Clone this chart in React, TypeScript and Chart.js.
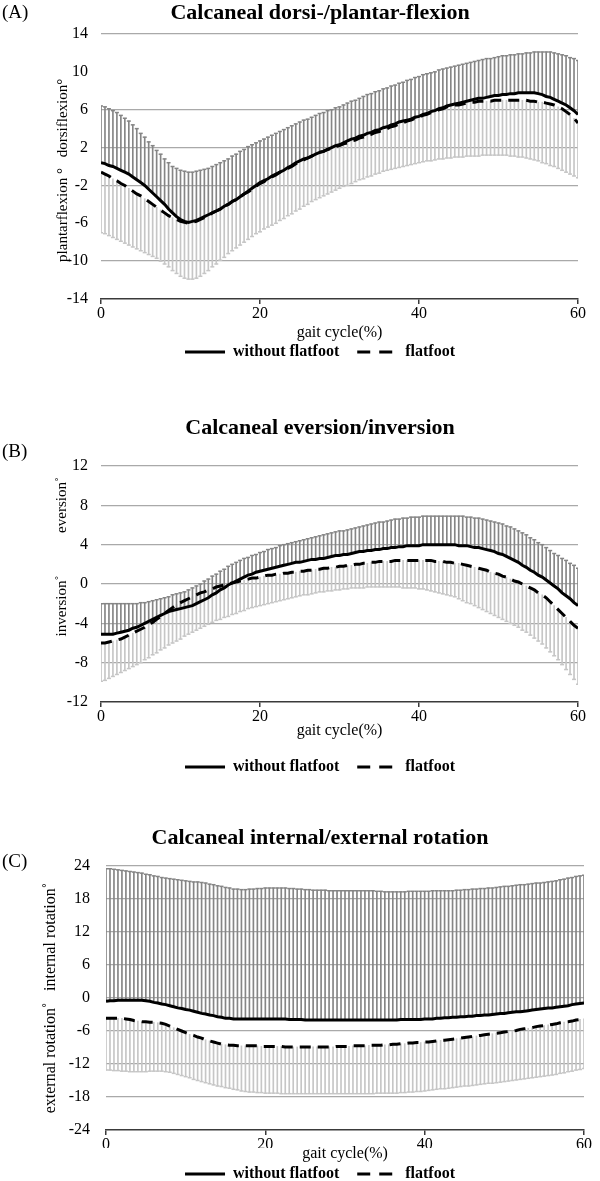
import React, { useEffect, useRef } from 'react';
import { Chart, registerables } from 'chart.js';

Chart.register(...registerables);

const FONT = '"Liberation Serif", "Times New Roman", serif';
Chart.defaults.font.family = FONT;
Chart.defaults.color = '#000';

// gait cycle (%) sample positions
const GAIT = [0,0.5,1,1.5,2,2.5,3,3.5,4,4.5,5,5.5,6,6.5,7,7.5,8,8.5,9,9.5,10,10.5,11,11.5,12,12.5,13,13.5,14,14.5,15,15.5,16,16.5,17,17.5,18,18.5,19,19.5,20,20.5,21,21.5,22,22.5,23,23.5,24,24.5,25,25.5,26,26.5,27,27.5,28,28.5,29,29.5,30,30.5,31,31.5,32,32.5,33,33.5,34,34.5,35,35.5,36,36.5,37,37.5,38,38.5,39,39.5,40,40.5,41,41.5,42,42.5,43,43.5,44,44.5,45,45.5,46,46.5,47,47.5,48,48.5,49,49.5,50,50.5,51,51.5,52,52.5,53,53.5,54,54.5,55,55.5,56,56.5,57,57.5,58,58.5,59,59.5,60];

// (A) dorsi-/plantar-flexion
const A_WITHOUT = [0.4,0.3,0.1,0.0,-0.2,-0.4,-0.6,-0.8,-1.1,-1.4,-1.7,-2.0,-2.4,-2.8,-3.2,-3.6,-4.0,-4.5,-4.9,-5.3,
-5.6,-5.8,-5.9,-5.8,-5.7,-5.5,-5.3,-5.1,-4.9,-4.7,-4.5,-4.2,-4.0,-3.7,-3.5,-3.2,-2.9,-2.6,-2.3,-2.0,
-1.7,-1.5,-1.3,-1.0,-0.8,-0.6,-0.4,-0.1,0.1,0.4,0.6,0.8,0.9,1.1,1.3,1.5,1.6,1.8,2.0,2.2,
2.3,2.5,2.7,2.9,3.0,3.2,3.3,3.5,3.6,3.8,3.9,4.1,4.2,4.4,4.5,4.7,4.8,4.9,5.0,5.2,
5.3,5.5,5.6,5.8,5.9,6.1,6.2,6.4,6.5,6.6,6.7,6.8,6.9,7.0,7.1,7.2,7.2,7.3,7.4,7.5,
7.5,7.6,7.6,7.7,7.7,7.8,7.8,7.8,7.8,7.8,7.7,7.6,7.4,7.3,7.1,6.9,6.7,6.5,6.2,5.9,
5.5];
const A_FLAT = [-0.6,-0.8,-1.0,-1.3,-1.5,-1.8,-2.0,-2.3,-2.6,-2.9,-3.1,-3.4,-3.7,-4.0,-4.3,-4.6,-4.9,-5.2,-5.4,-5.6,
-5.8,-5.9,-6.0,-5.9,-5.8,-5.6,-5.4,-5.2,-4.9,-4.7,-4.5,-4.2,-4.0,-3.7,-3.5,-3.2,-2.9,-2.7,-2.4,-2.1,
-1.8,-1.6,-1.3,-1.1,-0.9,-0.6,-0.4,-0.2,0.0,0.3,0.5,0.7,0.9,1.1,1.3,1.5,1.6,1.8,1.9,2.1,
2.2,2.4,2.5,2.7,2.8,3.0,3.1,3.3,3.4,3.6,3.7,3.9,4.0,4.2,4.3,4.5,4.6,4.8,4.9,5.1,
5.2,5.4,5.5,5.7,5.8,6.0,6.1,6.3,6.4,6.5,6.5,6.6,6.7,6.8,6.8,6.9,6.9,6.9,6.9,7.0,
7.0,7.0,7.0,7.0,7.0,7.0,7.0,7.0,6.9,6.9,6.8,6.8,6.7,6.6,6.5,6.3,6.1,5.8,5.5,5.1,
4.6];
const A_UPPER = [6.4,6.3,6.1,5.9,5.7,5.4,5.1,4.8,4.4,4.0,3.5,3.1,2.6,2.2,1.7,1.3,0.8,0.4,0.0,-0.2,
-0.4,-0.5,-0.6,-0.6,-0.5,-0.4,-0.3,-0.2,0.0,0.2,0.4,0.6,0.8,1.1,1.3,1.6,1.8,2.1,2.3,2.5,
2.7,2.9,3.1,3.3,3.5,3.7,3.9,4.1,4.3,4.5,4.7,4.9,5.0,5.2,5.4,5.6,5.7,5.9,6.0,6.2,
6.3,6.5,6.7,6.9,7.0,7.2,7.4,7.6,7.7,7.9,8.0,8.2,8.3,8.5,8.6,8.8,8.9,9.1,9.2,9.4,
9.5,9.7,9.8,9.9,10.0,10.2,10.3,10.4,10.5,10.6,10.7,10.8,10.9,11.0,11.1,11.2,11.3,11.4,11.4,11.5,
11.6,11.7,11.7,11.8,11.8,11.9,11.9,12.0,12.0,12.1,12.1,12.1,12.1,12.1,12.0,11.9,11.8,11.7,11.5,11.4,
11.2];
const A_LOWER = [-7.0,-7.1,-7.3,-7.5,-7.7,-7.9,-8.1,-8.3,-8.5,-8.7,-8.9,-9.1,-9.3,-9.5,-9.7,-10.0,-10.3,-10.6,-11.0,-11.3,
-11.6,-11.8,-11.9,-11.9,-11.8,-11.6,-11.3,-11.0,-10.6,-10.3,-9.9,-9.6,-9.2,-8.9,-8.6,-8.3,-8.0,-7.7,-7.4,-7.1,
-6.9,-6.6,-6.4,-6.2,-6.0,-5.7,-5.5,-5.2,-5.0,-4.7,-4.5,-4.2,-4.0,-3.7,-3.5,-3.3,-3.1,-2.9,-2.7,-2.5,
-2.3,-2.1,-2.0,-1.8,-1.6,-1.4,-1.3,-1.1,-1.0,-0.8,-0.7,-0.5,-0.4,-0.3,-0.2,-0.1,0.0,0.1,0.2,0.3,
0.4,0.5,0.6,0.6,0.7,0.8,0.8,0.9,0.9,1.0,1.0,1.0,1.1,1.1,1.1,1.1,1.2,1.2,1.2,1.2,
1.2,1.2,1.2,1.1,1.1,1.0,1.0,0.9,0.8,0.7,0.6,0.4,0.3,0.1,0.0,-0.2,-0.4,-0.6,-0.8,-1.0,
-1.2];

// (B) eversion/inversion
const B_WITHOUT = [-5.1,-5.1,-5.1,-5.1,-5.0,-4.9,-4.8,-4.7,-4.5,-4.4,-4.2,-4.0,-3.8,-3.6,-3.4,-3.2,-3.0,-2.8,-2.7,-2.6,
-2.5,-2.4,-2.3,-2.2,-2.0,-1.8,-1.6,-1.4,-1.1,-0.9,-0.6,-0.4,-0.1,0.1,0.3,0.5,0.7,0.9,1.0,1.2,
1.3,1.4,1.5,1.6,1.7,1.8,1.9,2.0,2.1,2.2,2.2,2.3,2.4,2.5,2.5,2.6,2.6,2.7,2.8,2.9,
2.9,3.0,3.0,3.1,3.2,3.3,3.3,3.4,3.4,3.5,3.5,3.6,3.6,3.7,3.7,3.8,3.8,3.9,3.9,3.9,
3.9,4.0,4.0,4.0,4.0,4.0,4.0,4.0,4.0,4.0,3.9,3.9,3.9,3.8,3.7,3.7,3.6,3.5,3.4,3.3,
3.1,3.0,2.8,2.6,2.4,2.2,1.9,1.7,1.4,1.2,0.9,0.7,0.4,0.1,-0.2,-0.5,-0.9,-1.2,-1.5,-1.9,
-2.2];
const B_FLAT = [-6.0,-6.0,-5.9,-5.8,-5.7,-5.6,-5.4,-5.2,-5.0,-4.8,-4.6,-4.4,-4.1,-3.9,-3.6,-3.3,-3.0,-2.7,-2.4,-2.1,
-1.9,-1.7,-1.5,-1.3,-1.1,-0.9,-0.8,-0.6,-0.5,-0.3,-0.2,-0.1,0.0,0.1,0.2,0.3,0.4,0.5,0.6,0.6,
0.7,0.8,0.9,0.9,1.0,1.0,1.1,1.1,1.2,1.2,1.3,1.3,1.4,1.4,1.5,1.5,1.6,1.6,1.7,1.7,
1.8,1.8,1.9,1.9,2.0,2.0,2.1,2.1,2.2,2.2,2.3,2.3,2.3,2.3,2.4,2.4,2.4,2.4,2.4,2.4,
2.4,2.4,2.4,2.4,2.3,2.3,2.3,2.2,2.2,2.1,2.1,2.0,1.9,1.8,1.7,1.6,1.5,1.4,1.2,1.1,
1.0,0.8,0.7,0.5,0.3,0.2,0.0,-0.2,-0.4,-0.6,-0.9,-1.1,-1.4,-1.8,-2.2,-2.6,-3.0,-3.4,-3.8,-4.2,
-4.5];
const B_UPPER = [-2.0,-2.0,-2.0,-2.0,-2.0,-2.0,-2.0,-2.0,-2.0,-2.0,-1.9,-1.9,-1.8,-1.7,-1.6,-1.5,-1.4,-1.3,-1.1,-1.0,
-0.9,-0.8,-0.6,-0.4,-0.2,0.0,0.3,0.5,0.8,1.0,1.3,1.5,1.8,2.0,2.2,2.4,2.6,2.7,2.9,3.0,
3.2,3.3,3.5,3.6,3.7,3.9,4.0,4.1,4.2,4.3,4.4,4.5,4.6,4.7,4.8,4.9,5.0,5.1,5.2,5.3,
5.4,5.4,5.5,5.6,5.7,5.8,5.9,6.0,6.1,6.2,6.3,6.3,6.4,6.5,6.6,6.6,6.7,6.7,6.8,6.8,
6.8,6.9,6.9,6.9,6.9,6.9,6.9,6.9,6.9,6.9,6.9,6.9,6.8,6.8,6.7,6.7,6.6,6.5,6.4,6.3,
6.2,6.1,5.9,5.8,5.6,5.4,5.2,5.0,4.7,4.5,4.2,4.0,3.7,3.4,3.1,2.9,2.6,2.4,2.1,1.9,
1.6];
const B_LOWER = [-9.9,-9.8,-9.6,-9.4,-9.2,-9.0,-8.8,-8.6,-8.4,-8.2,-8.0,-7.7,-7.5,-7.2,-7.0,-6.7,-6.5,-6.2,-6.0,-5.8,
-5.6,-5.3,-5.1,-4.9,-4.7,-4.5,-4.3,-4.1,-3.9,-3.7,-3.6,-3.4,-3.3,-3.1,-3.0,-2.8,-2.7,-2.5,-2.4,-2.3,
-2.2,-2.1,-2.0,-1.9,-1.8,-1.7,-1.6,-1.5,-1.4,-1.3,-1.2,-1.1,-1.1,-1.0,-0.9,-0.8,-0.8,-0.7,-0.7,-0.6,
-0.6,-0.5,-0.5,-0.4,-0.4,-0.4,-0.4,-0.3,-0.3,-0.3,-0.3,-0.3,-0.3,-0.3,-0.3,-0.3,-0.4,-0.4,-0.4,-0.4,
-0.5,-0.5,-0.6,-0.7,-0.8,-0.9,-1.0,-1.1,-1.2,-1.3,-1.5,-1.7,-1.9,-2.0,-2.2,-2.4,-2.6,-2.8,-3.0,-3.2,
-3.4,-3.6,-3.8,-4.0,-4.2,-4.4,-4.7,-4.9,-5.2,-5.5,-5.8,-6.1,-6.5,-6.9,-7.3,-7.7,-8.2,-8.7,-9.2,-9.7,
-10.2];

// (C) internal/external rotation
const C_WITHOUT = [-0.6,-0.5,-0.5,-0.4,-0.4,-0.4,-0.4,-0.4,-0.4,-0.4,-0.5,-0.6,-0.8,-0.9,-1.1,-1.2,-1.4,-1.6,-1.8,-1.9,
-2.1,-2.2,-2.4,-2.6,-2.8,-2.9,-3.1,-3.2,-3.4,-3.5,-3.7,-3.7,-3.8,-3.8,-3.8,-3.8,-3.8,-3.8,-3.8,-3.8,
-3.8,-3.8,-3.8,-3.8,-3.8,-3.8,-3.9,-3.9,-3.9,-3.9,-4.0,-4.0,-4.0,-4.0,-4.0,-4.0,-4.0,-4.0,-4.0,-4.0,
-4.0,-4.0,-4.0,-4.0,-4.0,-4.0,-4.0,-4.0,-4.0,-4.0,-4.0,-4.0,-4.0,-4.0,-3.9,-3.9,-3.9,-3.9,-3.9,-3.9,
-3.8,-3.8,-3.8,-3.7,-3.7,-3.6,-3.6,-3.5,-3.5,-3.4,-3.4,-3.3,-3.3,-3.2,-3.2,-3.1,-3.1,-3.0,-2.9,-2.8,
-2.8,-2.7,-2.6,-2.5,-2.5,-2.4,-2.3,-2.2,-2.1,-2.0,-1.9,-1.8,-1.8,-1.7,-1.6,-1.5,-1.4,-1.2,-1.1,-1.0,
-0.9];
const C_FLAT = [-3.7,-3.7,-3.7,-3.7,-3.7,-3.8,-3.9,-4.1,-4.2,-4.3,-4.3,-4.4,-4.4,-4.5,-4.6,-4.8,-5.1,-5.4,-5.7,-6.0,
-6.3,-6.6,-6.8,-7.1,-7.3,-7.6,-7.8,-8.0,-8.2,-8.4,-8.5,-8.6,-8.6,-8.7,-8.7,-8.7,-8.7,-8.7,-8.7,-8.8,
-8.8,-8.8,-8.8,-8.8,-8.8,-8.9,-8.9,-8.9,-8.9,-8.9,-8.9,-8.9,-8.9,-8.9,-8.9,-8.9,-8.9,-8.9,-8.8,-8.8,
-8.8,-8.8,-8.7,-8.7,-8.7,-8.7,-8.6,-8.6,-8.6,-8.6,-8.5,-8.5,-8.4,-8.4,-8.3,-8.3,-8.2,-8.2,-8.1,-8.1,
-8.0,-8.0,-7.9,-7.8,-7.7,-7.7,-7.6,-7.5,-7.4,-7.3,-7.2,-7.1,-7.0,-6.9,-6.8,-6.7,-6.6,-6.5,-6.4,-6.3,
-6.2,-6.1,-6.0,-5.9,-5.7,-5.6,-5.5,-5.4,-5.2,-5.1,-5.0,-4.9,-4.8,-4.7,-4.5,-4.4,-4.3,-4.2,-4.0,-3.9,
-3.8];
const C_UPPER = [23.5,23.5,23.4,23.3,23.2,23.1,23.0,22.9,22.8,22.7,22.5,22.4,22.2,22.1,21.9,21.8,21.7,21.6,21.5,21.4,
21.3,21.2,21.1,21.1,21.0,20.9,20.7,20.6,20.4,20.3,20.1,20.0,19.8,19.8,19.7,19.7,19.8,19.8,19.9,19.9,
20.0,20.0,20.0,20.0,20.0,20.0,19.9,19.9,19.8,19.8,19.7,19.7,19.6,19.6,19.6,19.6,19.5,19.5,19.5,19.5,
19.5,19.5,19.5,19.5,19.5,19.5,19.5,19.5,19.4,19.4,19.3,19.3,19.3,19.3,19.3,19.3,19.4,19.4,19.4,19.4,
19.4,19.4,19.5,19.5,19.5,19.5,19.5,19.5,19.6,19.6,19.7,19.7,19.8,19.8,19.9,19.9,20.0,20.0,20.1,20.2,
20.3,20.3,20.4,20.5,20.6,20.6,20.7,20.8,20.9,20.9,21.0,21.1,21.2,21.3,21.5,21.6,21.8,21.9,22.1,22.2,
22.3];
const C_LOWER = [-13.1,-13.1,-13.2,-13.2,-13.3,-13.3,-13.4,-13.4,-13.4,-13.4,-13.4,-13.3,-13.3,-13.3,-13.3,-13.4,-13.5,-13.7,-13.9,-14.1,
-14.3,-14.5,-14.8,-15.0,-15.2,-15.4,-15.6,-15.8,-16.0,-16.1,-16.3,-16.4,-16.6,-16.7,-16.9,-17.0,-17.1,-17.1,-17.2,-17.2,
-17.3,-17.3,-17.3,-17.3,-17.4,-17.4,-17.4,-17.4,-17.4,-17.4,-17.4,-17.4,-17.4,-17.4,-17.4,-17.4,-17.4,-17.4,-17.4,-17.4,
-17.4,-17.4,-17.4,-17.4,-17.4,-17.4,-17.4,-17.4,-17.3,-17.3,-17.3,-17.3,-17.3,-17.3,-17.2,-17.2,-17.1,-17.1,-17.0,-17.0,
-16.9,-16.8,-16.7,-16.6,-16.5,-16.5,-16.4,-16.3,-16.2,-16.1,-16.0,-16.0,-15.9,-15.8,-15.7,-15.6,-15.5,-15.5,-15.4,-15.3,
-15.2,-15.1,-15.0,-14.9,-14.8,-14.7,-14.6,-14.5,-14.4,-14.3,-14.2,-14.1,-14.0,-13.9,-13.7,-13.6,-13.4,-13.3,-13.1,-13.0,
-12.8];

const X_TICKS_STEP = 20;
const SERIES_LABELS = ['without flatfoot', 'flatfoot'];

const DARK = '#858585';
const LIGHT = '#c6c6c6';
const GRID = '#a9a9a9';
const AXIS = '#3a3a3a';

type YTitle = { text: string; x: number; y: number; size: number };
type Panel = {
  key: string;
  top: number;
  height: number;
  title: string;
  letter: string;
  letterY: number;
  yTitles: YTitle[];
  without: number[];
  flat: number[];
  upper: number[];
  lower: number[];
  yMin: number;
  yMax: number;
  yStep: number;
  hiddenGrid: number[];
  padL: number;
  padR: number;
  yAxisW: number;
  yTickPad: number;
  titlePadTop: number;
  titlePadBottom: number;
  xAxisH: number;
  xTitlePadBottom: number;
};

const PANELS: Panel[] = [
  {
    key: 'A', top: 0, height: 370,
    title: 'Calcaneal dorsi-/plantar-flexion', letter: '(A)', letterY: 13,
    yTitles: [
      { text: 'plantarflexion °', x: 63, y: 215, size: 15 },
      { text: 'dorsiflexion°', x: 63, y: 118, size: 15 },
    ],
    without: A_WITHOUT, flat: A_FLAT, upper: A_UPPER, lower: A_LOWER,
    yMin: -14, yMax: 14, yStep: 4, hiddenGrid: [10, -6, -14],
    padL: 62, padR: 22, yAxisW: 39, yTickPad: 13,
    titlePadTop: 0, titlePadBottom: 7.6, xAxisH: 27, xTitlePadBottom: -16.6,
  },
  {
    key: 'B', top: 380, height: 405,
    title: 'Calcaneal eversion/inversion', letter: '(B)', letterY: 72,
    yTitles: [
      { text: 'eversion˚', x: 62, y: 125, size: 15 },
      { text: 'inversion˚', x: 62, y: 226, size: 15 },
    ],
    without: B_WITHOUT, flat: B_FLAT, upper: B_UPPER, lower: B_LOWER,
    yMin: -12, yMax: 12, yStep: 4, hiddenGrid: [-12],
    padL: 62, padR: 22, yAxisW: 39, yTickPad: 13,
    titlePadTop: 34.8, titlePadBottom: 24.8, xAxisH: 39, xTitlePadBottom: 0.4,
  },
  {
    key: 'C', top: 790, height: 402,
    title: 'Calcaneal internal/external rotation', letter: '(C)', letterY: 72,
    yTitles: [
      { text: 'internal rotation˚', x: 51, y: 147, size: 16 },
      { text: 'external rotation˚', x: 51, y: 268, size: 16 },
    ],
    without: C_WITHOUT, flat: C_FLAT, upper: C_UPPER, lower: C_LOWER,
    yMin: -24, yMax: 24, yStep: 6, hiddenGrid: [-24],
    padL: 56, padR: 16, yAxisW: 50, yTickPad: 16,
    titlePadTop: 34.8, titlePadBottom: 14.8, xAxisH: 18, xTitlePadBottom: -15.6,
  },
];

const decorPlugin = {
  id: 'decor',
  afterDraw(chart: any, _args: any, opts: any) {
    const ctx = chart.ctx as CanvasRenderingContext2D;
    ctx.save();
    ctx.fillStyle = '#000';
    ctx.font = `19px ${FONT}`;
    ctx.textAlign = 'left';
    ctx.textBaseline = 'middle';
    ctx.fillText(opts.letter, 2, opts.letterY);
    for (const t of opts.yTitles as YTitle[]) {
      ctx.save();
      ctx.translate(t.x, t.y);
      ctx.rotate(-Math.PI / 2);
      ctx.font = `${t.size}px ${FONT}`;
      ctx.textAlign = 'center';
      ctx.textBaseline = 'middle';
      ctx.fillText(t.text, 0, 0);
      ctx.restore();
    }
    ctx.restore();
  },
};

function PanelChart({ p }: { p: Panel }) {
  const ref = useRef<HTMLCanvasElement | null>(null);
  useEffect(() => {
    const canvas = ref.current;
    if (!canvas) return;
    const pts = (ys: number[]) => GAIT.map((x, i) => ({ x, y: ys[i] }));
    const ranges = (a: number[], b: number[]) => GAIT.map((x, i) => ({ x, y: [a[i], b[i]] }));
    const chart = new Chart(canvas, {
      type: 'line',
      data: {
        datasets: [
          {
            type: 'line', label: SERIES_LABELS[0], data: pts(p.without),
            borderColor: '#000', backgroundColor: '#000', borderWidth: 3,
            pointRadius: 0, tension: 0, fill: false, order: 0,
          },
          {
            type: 'line', label: SERIES_LABELS[1], data: pts(p.flat),
            borderColor: '#000', backgroundColor: '#000', borderWidth: 3, borderDash: [11, 7],
            pointRadius: 0, tension: 0, fill: false, order: 1,
          },
          {
            type: 'line', label: 'upper SD cap', data: pts(p.upper), showLine: false,
            pointStyle: 'line', pointRadius: 2, pointBorderWidth: 1.5,
            borderColor: DARK, pointBorderColor: DARK, pointBackgroundColor: DARK, order: 2,
          },
          {
            type: 'line', label: 'lower SD cap', data: pts(p.lower), showLine: false,
            pointStyle: 'line', pointRadius: 2, pointBorderWidth: 1.5,
            borderColor: LIGHT, pointBorderColor: LIGHT, pointBackgroundColor: LIGHT, order: 3,
          },
          {
            type: 'bar', label: 'upper SD', data: ranges(p.without, p.upper) as any,
            backgroundColor: DARK, borderWidth: 0, grouped: false,
            barThickness: 1, maxBarThickness: 1, order: 4,
          },
          {
            type: 'bar', label: 'lower SD', data: ranges(p.lower, p.flat) as any,
            backgroundColor: LIGHT, borderWidth: 0, grouped: false,
            barThickness: 1, maxBarThickness: 1, order: 5,
          },
        ] as any,
      },
      options: {
        animation: false,
        responsive: false,
        maintainAspectRatio: false,
        events: [],
        layout: { padding: { left: p.padL, right: p.padR, top: 0, bottom: 0 } },
        scales: {
          x: {
            type: 'linear', min: 0, max: 60, offset: false,
            ticks: { stepSize: X_TICKS_STEP, font: { size: 16, family: FONT }, color: '#000', padding: 0, maxRotation: 0, autoSkip: false },
            grid: { offset: false, drawOnChartArea: false, drawTicks: true, tickLength: 5, color: AXIS, lineWidth: 1.5 },
            border: { display: true, color: AXIS, width: 1.5 },
            title: {
              display: true, text: 'gait cycle(%)', color: '#000',
              font: { size: 16, family: FONT, lineHeight: 1.2 },
              padding: { top: 0, bottom: p.xTitlePadBottom },
            },
            afterFit: (s: any) => { s.height = p.xAxisH; },
          },
          y: {
            type: 'linear', min: p.yMin, max: p.yMax,
            ticks: { stepSize: p.yStep, font: { size: 16, family: FONT }, color: '#000', padding: p.yTickPad },
            grid: {
              offset: false, drawTicks: false, lineWidth: 1.3,
              color: (c: any) => (c.tick && p.hiddenGrid.includes(c.tick.value) ? 'rgba(0,0,0,0)' : GRID),
            },
            border: { display: false },
            afterFit: (s: any) => { s.width = p.yAxisW; },
          },
        } as any,
        plugins: {
          tooltip: { enabled: false },
          title: {
            display: true, text: p.title, color: '#000', fullSize: true,
            font: { size: 22, weight: 'bold', family: FONT, lineHeight: 1.2 },
            padding: { top: p.titlePadTop, bottom: p.titlePadBottom },
          },
          legend: {
            display: true, position: 'bottom', fullSize: true,
            labels: {
              usePointStyle: true, pointStyleWidth: 40, padding: 18, color: '#000',
              font: { size: 16, weight: 'bold', family: FONT },
              generateLabels: () => [
                { text: SERIES_LABELS[0], strokeStyle: '#000', fillStyle: '#000', fontColor: '#000', lineWidth: 3, lineDash: [], pointStyle: 'line', hidden: false, datasetIndex: 0 },
                { text: SERIES_LABELS[1], strokeStyle: '#000', fillStyle: '#000', fontColor: '#000', lineWidth: 3, lineDash: [13, 9], pointStyle: 'line', hidden: false, datasetIndex: 1 },
              ],
            },
          },
          decor: { letter: p.letter, letterY: p.letterY, yTitles: p.yTitles },
        } as any,
      },
      plugins: [decorPlugin],
    });
    return () => chart.destroy();
  }, [p]);
  return (
    <canvas
      ref={ref}
      width={600}
      height={p.height}
      style={{ position: 'absolute', left: 0, top: p.top, width: 600, height: p.height }}
    />
  );
}

export default function App() {
  return (
    <div style={{ position: 'absolute', left: 0, top: 0, width: 600, height: 1181, overflow: 'hidden', background: '#fff' }}>
      {PANELS.map((p) => (
        <PanelChart key={p.key} p={p} />
      ))}
    </div>
  );
}
